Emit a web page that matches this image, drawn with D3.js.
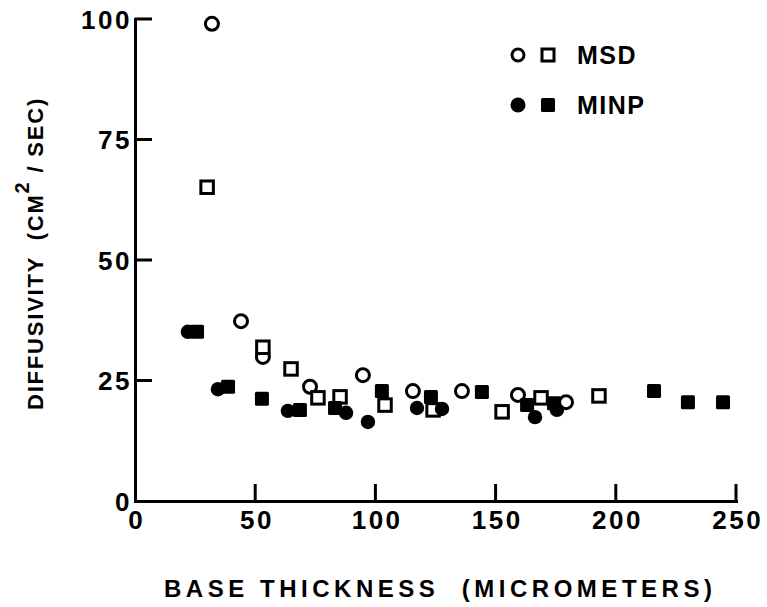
<!DOCTYPE html>
<html>
<head>
<meta charset="utf-8">
<script src="https://cdn.jsdelivr.net/npm/d3@7"></script>
<style>
  html, body { margin: 0; padding: 0; background: #fff; }
  svg { display: block; }
  text { font-family: "Liberation Sans", Arial, Helvetica, sans-serif; font-weight: bold; fill: #000; white-space: pre; }
</style>
</head>
<body>
<svg id="chart" width="767" height="607"></svg>
<script>
// Base thickness (micrometers) vs. diffusivity (cm^2/sec)
const msdCircleX = [32, 44.1, 53.2, 72.8, 94.8, 115.6, 136, 159.3, 179.3];
const msdCircleY = [99, 37.3, 29.9, 23.7, 26.1, 22.8, 22.8, 22, 20.5];
const msdSquareX = [30, 53.2, 64.9, 76.1, 85.3, 104, 124, 152.7, 168.9, 193];
const msdSquareY = [65.1, 31.9, 27.4, 21.4, 21.6, 19.9, 18.9, 18.5, 21.4, 21.8];
const minpCircleX = [22, 34.5, 63.6, 87.8, 96.9, 117.3, 127.7, 166.4, 175.5];
const minpCircleY = [35.1, 23.2, 18.7, 18.3, 16.4, 19.3, 19.1, 17.4, 18.9];
const minpSquareX = [25.8, 38.7, 52.8, 68.6, 83.2, 102.7, 123.1, 144.3, 163.1, 174.3, 215.9, 230, 244.6];
const minpSquareY = [35.1, 23.7, 21.2, 18.9, 19.3, 22.8, 21.6, 22.6, 19.9, 20.3, 22.8, 20.5, 20.5];

const xTicks = [0, 50, 100, 150, 200, 250];
const yTicks = [0, 25, 50, 75, 100];
const seriesNames = ["MSD", "MINP"];

const svg = d3.select("#chart");
const plotLeft = 135, plotRight = 736, plotTop = 19, plotBottom = 501;

const x = d3.scaleLinear().domain([0, 250]).range([plotLeft, plotRight]);
const y = d3.scaleLinear().domain([0, 100]).range([plotBottom, plotTop]);

// axes: labels from d3.axis, inward tick marks drawn as small bars
const xAxis = d3.axisBottom(x).tickValues(xTicks).tickSize(0).tickPadding(10);
const yAxis = d3.axisLeft(y).tickValues(yTicks).tickSize(0).tickPadding(3);

const gx = svg.append("g").attr("transform", `translate(0,${plotBottom})`).call(xAxis);
const gy = svg.append("g").attr("transform", `translate(${plotLeft},0)`).call(yAxis);

[gx, gy].forEach(g => {
  g.select(".domain").attr("stroke", "#000").attr("stroke-width", 3).attr("stroke-linecap", "square");
  g.selectAll(".tick text")
    .attr("font-family", "Liberation Sans, Arial, sans-serif")
    .attr("font-weight", "bold")
    .attr("font-size", 26)
    .attr("letter-spacing", 2.5)
    .attr("fill", "#000");
});
gy.selectAll(".tick text").attr("dy", "0.36em");
gx.selectAll(".tick text").attr("dx", 1.2);

const tickLen = 17, tickW = 3;
const tickG = svg.append("g").attr("fill", "#000");
tickG.selectAll(".xt").data(xTicks.filter(d => d > 0)).join("rect")
  .attr("x", d => x(d) - tickW / 2).attr("y", plotBottom - tickLen)
  .attr("width", tickW).attr("height", tickLen);
tickG.selectAll(".yt").data(yTicks.filter(d => d > 0)).join("rect")
  .attr("x", plotLeft).attr("y", d => y(d) - tickW / 2)
  .attr("width", tickLen).attr("height", tickW);

// markers
const g = svg.append("g");
const rOpen = 6.5, sOpen = 12.5, rFill = 7.2, sFill = 14;

g.selectAll(".msd-c").data(msdCircleX).join("circle")
  .attr("cx", d => x(d)).attr("cy", (d, i) => y(msdCircleY[i]))
  .attr("r", rOpen).attr("fill", "#fff").attr("stroke", "#000").attr("stroke-width", 3);

g.selectAll(".msd-s").data(msdSquareX).join("rect")
  .attr("x", d => x(d) - sOpen / 2).attr("y", (d, i) => y(msdSquareY[i]) - sOpen / 2)
  .attr("width", sOpen).attr("height", sOpen)
  .attr("fill", "#fff").attr("stroke", "#000").attr("stroke-width", 3);

g.selectAll(".minp-c").data(minpCircleX).join("circle")
  .attr("cx", d => x(d)).attr("cy", (d, i) => y(minpCircleY[i]))
  .attr("r", rFill).attr("fill", "#000");

g.selectAll(".minp-s").data(minpSquareX).join("rect")
  .attr("x", d => x(d) - sFill / 2).attr("y", (d, i) => y(minpSquareY[i]) - sFill / 2)
  .attr("width", sFill).attr("height", sFill).attr("rx", 1.5).attr("fill", "#000");

// legend
const leg = svg.append("g");
const legRows = [55, 105];
leg.append("circle").attr("cx", 518).attr("cy", legRows[0]).attr("r", 6).attr("fill", "#fff").attr("stroke", "#000").attr("stroke-width", 3);
leg.append("rect").attr("x", 542).attr("y", legRows[0] - 6).attr("width", 12).attr("height", 12).attr("fill", "#fff").attr("stroke", "#000").attr("stroke-width", 3);
leg.append("circle").attr("cx", 518).attr("cy", legRows[1]).attr("r", 7.5).attr("fill", "#000");
leg.append("rect").attr("x", 541).attr("y", legRows[1] - 7).attr("width", 14).attr("height", 14).attr("rx", 1.5).attr("fill", "#000");
leg.selectAll(".lt").data(seriesNames).join("text")
  .attr("x", 577).attr("y", (d, i) => legRows[i] + 9)
  .attr("font-size", 25).attr("letter-spacing", 1.5)
  .text(d => d);

// axis titles
svg.append("text")
  .attr("x", 164).attr("y", 597)
  .attr("font-size", 24)
  .attr("textLength", 548).attr("lengthAdjust", "spacing")
  .text("BASE THICKNESS  (MICROMETERS)");

const yt = svg.append("text")
  .attr("transform", "translate(43,410) rotate(-90)")
  .attr("x", 0).attr("y", 0)
  .attr("font-size", 22).attr("letter-spacing", 1.8);
yt.append("tspan").text("DIFFUSIVITY  (CM");
yt.append("tspan").attr("dy", -14).attr("font-size", 20).text("2");
yt.append("tspan").attr("dy", 14).text(" / SEC)");
</script>
</body>
</html>
